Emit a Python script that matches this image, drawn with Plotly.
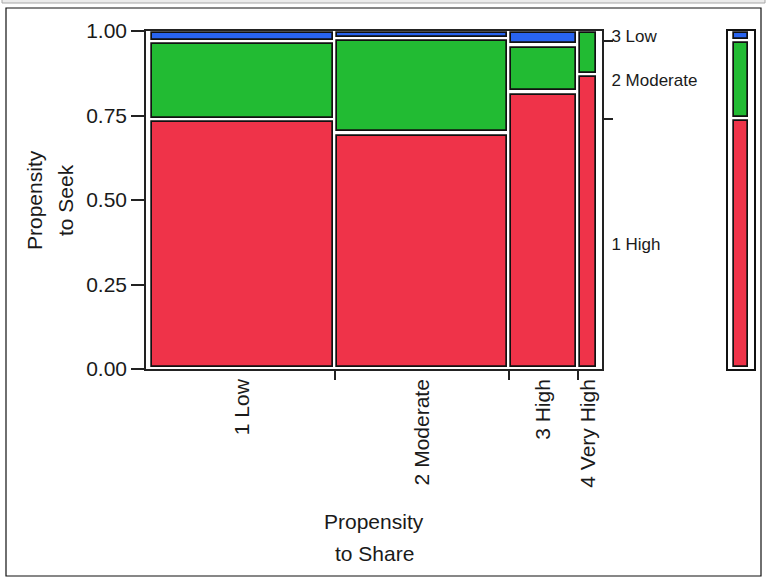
import plotly.graph_objects as go

# ---------------- data ----------------
share_levels = ["1 Low", "2 Moderate", "3 High", "4 Very High"]      # x categories (Propensity to Share)
share_weights = [0.413, 0.388, 0.155, 0.044]                         # column widths (proportion of rows)
seek_levels = ["1 High", "2 Moderate", "3 Low"]                      # stacked categories (Propensity to Seek)
seek_high = [0.737, 0.697, 0.818, 0.870]
seek_moderate = [0.230, 0.279, 0.139, 0.130]
seek_low = [0.033, 0.024, 0.043, 0.000]
y_tick_vals = [0.0, 0.25, 0.5, 0.75, 1.0]
y_tick_text = ["0.00", "0.25", "0.50", "0.75", "1.00"]

colors = {"1 High": "#EF3349", "2 Moderate": "#22BB33", "3 Low": "#2964F0"}
FONT = "Liberation Sans, Arial, sans-serif"
W, H = 767, 582

# ---------------- layout helpers (pixel -> paper) ----------------
def fx(p):
    return p / W

def fy(p):
    return 1 - p / H

x_px0, x_px1 = 146, 602          # main plot frame
y_px0, y_px1 = 31, 369
pad = 4 / 448                     # inner padding of mosaic in x
xpx_per_unit = (x_px1 - x_px0) / (1 + 2 * pad)
ypx_per_unit = (y_px1 - y_px0)
ix = 2.2 / xpx_per_unit
iy = 2.2 / ypx_per_unit

# column geometry
lefts, centers = [], []
acc = 0.0
for w in share_weights:
    lefts.append(acc)
    centers.append(acc + w / 2)
    acc += w
boundaries = [lefts[i] for i in range(1, len(lefts))]

series = {"1 High": seek_high, "2 Moderate": seek_moderate, "3 Low": seek_low}

fig = go.Figure()
cum = [0.0] * len(share_levels)
for lvl in seek_levels:
    vals = series[lvl]
    xs, ws, bases, hs = [], [], [], []
    for i, v in enumerate(vals):
        if v > 0:
            xs.append(centers[i])
            ws.append(share_weights[i] - 2 * ix)
            bases.append(cum[i] + iy)
            hs.append(v - 2 * iy)
        cum[i] += v
    fig.add_trace(go.Bar(x=xs, y=hs, base=bases, width=ws, name=lvl,
                         marker=dict(color=colors[lvl], line=dict(color="#111111", width=1.7)),
                         xaxis="x", yaxis="y", showlegend=False, hoverinfo="skip"))

# marginal distribution
marg = {lvl: sum(w * v for w, v in zip(share_weights, series[lvl])) for lvl in seek_levels}
mcum = 0.0
mids, mbounds = [], []
for lvl in seek_levels:
    v = marg[lvl]
    fig.add_trace(go.Bar(x=[0.5], y=[v - 2 * iy], base=[mcum + iy], width=[14 / 26],
                         marker=dict(color=colors[lvl], line=dict(color="#111111", width=1.7)),
                         xaxis="x2", yaxis="y", showlegend=False, hoverinfo="skip"))
    mids.append(mcum + v / 2)
    mcum += v
    mbounds.append(mcum)
mbounds = mbounds[:-1]

# dummy traces to activate overlay axes
fig.add_trace(go.Scatter(x=[None], y=[None], xaxis="x3", yaxis="y", showlegend=False))
fig.add_trace(go.Scatter(x=[None], y=[None], xaxis="x", yaxis="y2", showlegend=False))
fig.add_trace(go.Scatter(x=[None], y=[None], xaxis="x", yaxis="y3", showlegend=False))
fig.add_trace(go.Scatter(x=[None], y=[None], xaxis="x2", yaxis="y4", showlegend=False))

xr = [-pad, 1 + pad]
tickfont = dict(family=FONT, size=21, color="#1a1a1a")

fig.update_layout(
    width=W, height=H,
    margin=dict(l=0, r=0, t=0, b=0, autoexpand=False),
    paper_bgcolor="white", plot_bgcolor="white",
    barmode="overlay", bargap=0, showlegend=False,
    font=dict(family=FONT, color="#1a1a1a"),
    xaxis=dict(domain=[fx(x_px0), fx(x_px1)], range=xr, anchor="y",
               tickvals=centers, ticktext=share_levels, tickangle=-90,
               ticks="", tickfont=tickfont, showgrid=False, zeroline=False, automargin=False,
               showline=True, linecolor="#222222", linewidth=1.5, mirror=True),
    xaxis3=dict(overlaying="x", range=xr, anchor="y", side="bottom",
                tickvals=boundaries, ticks="outside", ticklen=10, tickcolor="#222222",
                tickwidth=1.5, showticklabels=False, showgrid=False, zeroline=False, showline=False),
    yaxis=dict(domain=[fy(y_px1), fy(y_px0)], range=[0, 1], anchor="x",
               tickvals=y_tick_vals, ticktext=y_tick_text,
               ticks="outside", ticklen=13, tickcolor="#222222", tickwidth=1.5,
               tickfont=tickfont, showgrid=False, zeroline=False, automargin=False,
               showline=True, linecolor="#222222", linewidth=1.5, mirror=True),
    yaxis2=dict(overlaying="y", range=[0, 1], anchor="x", side="right",
                tickvals=mids, ticktext=seek_levels,
                ticks="outside", ticklen=5, tickcolor="rgba(0,0,0,0)",
                tickfont=dict(family=FONT, size=17, color="#1a1a1a"), automargin=False,
                showgrid=False, zeroline=False, showline=False),
    yaxis3=dict(overlaying="y", range=[0, 1], anchor="x", side="right",
                tickvals=mbounds, ticks="outside", ticklen=10, tickcolor="#222222", tickwidth=1.5,
                showticklabels=False, showgrid=False, zeroline=False, showline=False),
    xaxis2=dict(domain=[fx(728), fx(754)], range=[0, 1], anchor="y",
                showticklabels=False, ticks="", showgrid=False, zeroline=False,
                showline=True, linecolor="#111111", linewidth=2, mirror=True),
    yaxis4=dict(overlaying="y", range=[0, 1], anchor="x2",
                showticklabels=False, ticks="", showgrid=False, zeroline=False,
                showline=True, linecolor="#111111", linewidth=2, mirror=True),
    shapes=[
        dict(type="rect", xref="paper", yref="paper", x0=fx(6), x1=fx(761), y0=fy(576), y1=fy(8),
             line=dict(color="#111111", width=1.2), fillcolor="rgba(0,0,0,0)", layer="below"),
        dict(type="rect", xref="paper", yref="paper", x0=fx(2), x1=fx(765), y0=fy(3), y1=fy(-3),
             line=dict(color="#a8a8a8", width=1), fillcolor="#ececec", layer="below"),
    ],
    annotations=[
        dict(text="Propensity", x=fx(374), y=fy(521), xref="paper", yref="paper",
             showarrow=False, font=dict(family=FONT, size=21, color="#1a1a1a"),
             xanchor="center", yanchor="middle"),
        dict(text="to Share", x=fx(374), y=fy(553), xref="paper", yref="paper",
             showarrow=False, font=dict(family=FONT, size=21, color="#1a1a1a"),
             xanchor="center", yanchor="middle"),
        dict(text="Propensity", x=fx(34), y=fy(200), xref="paper", yref="paper", textangle=-90,
             showarrow=False, font=dict(family=FONT, size=21, color="#1a1a1a"),
             xanchor="center", yanchor="middle"),
        dict(text="to Seek", x=fx(65), y=fy(200), xref="paper", yref="paper", textangle=-90,
             showarrow=False, font=dict(family=FONT, size=21, color="#1a1a1a"),
             xanchor="center", yanchor="middle"),
    ],
)

fig.write_html("out.html", config={"displayModeBar": False},
               post_script="document.body.style.margin='0';")
